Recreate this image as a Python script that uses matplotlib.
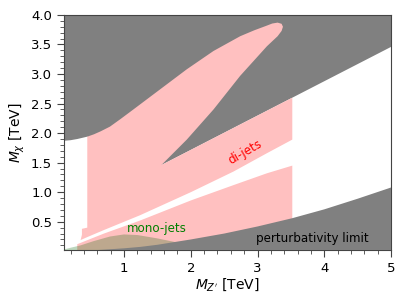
import matplotlib
matplotlib.use("Agg")
import matplotlib.pyplot as plt
from matplotlib.ticker import MultipleLocator

# upper perturbativity region: left edge and wedge line
upper_left_x = [0.1, 0.2, 0.3, 0.45]
upper_left_y = [1.87, 1.88, 1.90, 1.94]
wedge_tip = (1.56, 1.46)
wedge_end = (5.0, 3.46)

# lower perturbativity limit curve
lower_x = [0.1, 0.3, 0.6, 1.0, 1.25, 1.5, 1.75, 2.0, 2.5, 3.0, 3.52, 4.0, 4.5, 5.0]
lower_y = [0.0, 0.0, 0.02, 0.05, 0.075, 0.11, 0.155, 0.2, 0.3, 0.42, 0.56, 0.71, 0.89, 1.08]

# di-jets excluded region: ellipse top edge
ell_top_x = [0.45, 0.55, 0.65, 0.79, 0.95, 1.14, 1.54, 1.94, 2.34, 2.74, 2.95,
             3.14, 3.22, 3.30, 3.36, 3.38, 3.36, 3.30]
ell_top_y = [1.94, 1.98, 2.03, 2.11, 2.24, 2.40, 2.74, 3.08, 3.39, 3.64, 3.74,
             3.82, 3.855, 3.87, 3.85, 3.80, 3.73, 3.64]
# wedge upper-left edge (from tip of ellipse down to the wedge tip)
wedge_edge_x = [3.14, 2.74, 2.34, 1.94, 1.56]
wedge_edge_y = [3.47, 2.97, 2.40, 1.89, 1.46]
dijet_xmax = 3.52
# white gap between the two di-jet pieces
gap_top_x = [3.52, 3.14, 2.64, 2.0, 1.24, 0.7, 0.45, 0.35]
gap_top_y = [1.89, 1.66, 1.35, 1.0, 0.61, 0.36, 0.24, 0.19]
gap_bot_x = [0.3, 0.7, 1.24, 2.0, 2.64, 3.14, 3.52]
gap_bot_y = [0.12, 0.30, 0.52, 0.86, 1.12, 1.32, 1.45]

# mono-jets excluded region
mono_x = [0.1, 0.2, 0.35, 0.54, 0.79, 1.0, 1.2, 1.49, 1.75, 1.9]
mono_y = [0.03, 0.06, 0.10, 0.17, 0.25, 0.285, 0.275, 0.22, 0.16, 0.1]

GRAY = "#808080"
PINK = "#ffc0c0"

fig = plt.figure(figsize=(4.07, 3.05), dpi=100)
ax = fig.add_axes([0.157, 0.18, 0.804, 0.771])

# upper gray
ux = [0.1] + upper_left_x + [wedge_tip[0], wedge_end[0], 5.0, 0.1]
uy = [4.0] + upper_left_y + [wedge_tip[1], wedge_end[1], 4.0, 4.0]
ax.fill(ux, uy, color=GRAY, lw=0, zorder=1)

# di-jets piece above the gap
slope = (wedge_end[1] - wedge_tip[1]) / (wedge_end[0] - wedge_tip[0])
y_right = wedge_tip[1] + slope * (dijet_xmax - wedge_tip[0])
px = [0.45] + ell_top_x + wedge_edge_x + [dijet_xmax] + gap_top_x + [0.37, 0.37]
py = [0.40] + ell_top_y + wedge_edge_y + [y_right] + gap_top_y + [0.28, 0.38]
ax.fill(px, py, color=PINK, lw=0, zorder=2)

# di-jets piece below the gap
bx = gap_bot_x + [dijet_xmax, gap_bot_x[0]]
by = gap_bot_y + [0.0, 0.0]
ax.fill(bx, by, color=PINK, lw=0, zorder=2)

# mono-jets
mx = mono_x + [mono_x[-1], mono_x[0]]
my = mono_y + [0.0, 0.0]
ax.fill(mx, my, color="#006400", alpha=0.26, lw=0, zorder=3)

# lower gray
lx = lower_x + [5.0, 0.1]
ly = lower_y + [0.0, 0.0]
ax.fill(lx, ly, color=GRAY, lw=0, zorder=4)

ax.text(2.81, 1.68, "di-jets", color="red", fontsize=8.6, rotation=30,
        ha="center", va="center", zorder=5)
ax.text(1.49, 0.39, "mono-jets", color="green", fontsize=8.6,
        ha="center", va="center", zorder=5)
ax.text(3.82, 0.21, "perturbativity limit", color="black", fontsize=8.6,
        ha="center", va="center", zorder=5)

ax.set_xlim(0.1, 5.0)
ax.set_ylim(0.02, 4.0)
ax.xaxis.set_major_locator(MultipleLocator(1))
ax.xaxis.set_minor_locator(MultipleLocator(0.2))
ax.yaxis.set_major_locator(MultipleLocator(0.5))
ax.yaxis.set_minor_locator(MultipleLocator(0.1))
ax.tick_params(which="both", direction="out", labelsize=9.5, color="#444444")
ax.tick_params(which="major", length=5)
ax.tick_params(which="minor", length=3)
for s in ax.spines.values():
    s.set_color("#444444")
ax.set_xlabel("$M_{Z'}$ [TeV]", fontsize=10, labelpad=1)
ax.set_ylabel("$M_{\\chi}$ [TeV]", fontsize=10, labelpad=3)

fig.savefig("out.png", dpi=100)
